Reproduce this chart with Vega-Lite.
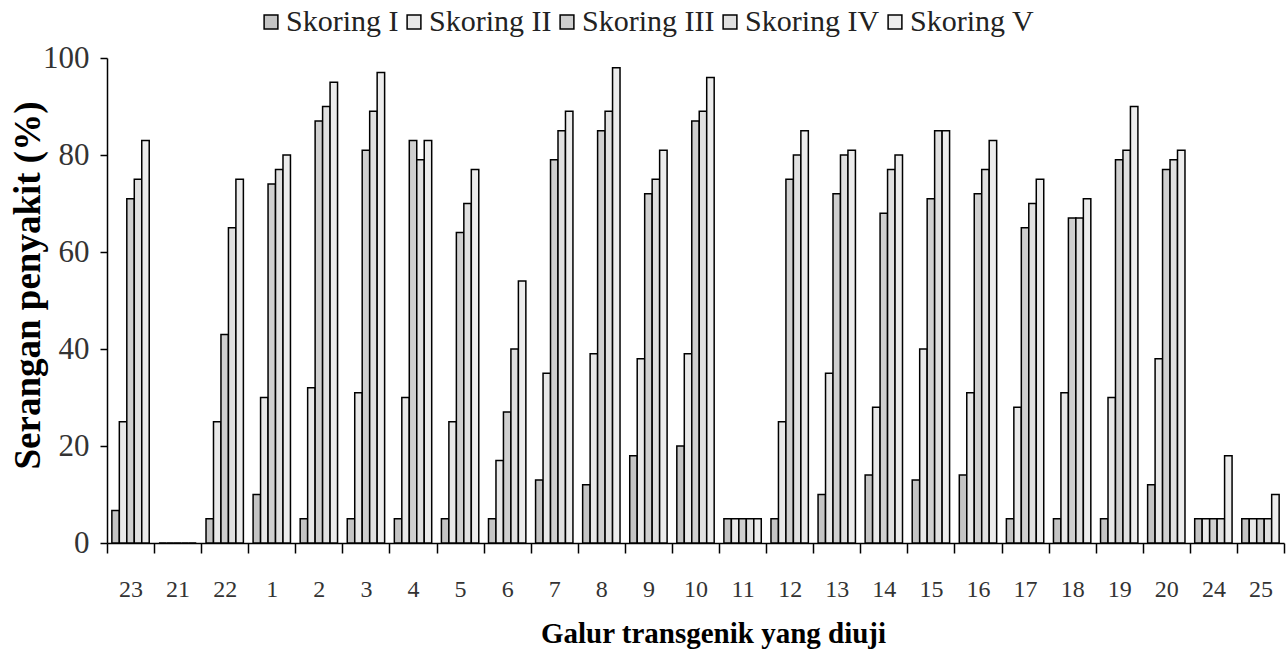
{
  "$schema": "https://vega.github.io/schema/vega-lite/v6.json",
  "autosize": {"type": "none"},
  "width": 1177,
  "height": 485,
  "padding": {"left": 107, "top": 58, "right": 3, "bottom": 114},
  "background": "white",
  "config": {
    "view": {"stroke": null},
    "font": "Liberation Serif"
  },
  "data": {
    "values": [
      {"galur": "23", "skoring": "Skoring I", "v": 6.7}, {"galur": "23", "skoring": "Skoring II", "v": 25}, {"galur": "23", "skoring": "Skoring III", "v": 71}, {"galur": "23", "skoring": "Skoring IV", "v": 75}, {"galur": "23", "skoring": "Skoring V", "v": 83},
      {"galur": "21", "skoring": "Skoring I", "v": 0}, {"galur": "21", "skoring": "Skoring II", "v": 0}, {"galur": "21", "skoring": "Skoring III", "v": 0}, {"galur": "21", "skoring": "Skoring IV", "v": 0}, {"galur": "21", "skoring": "Skoring V", "v": 0},
      {"galur": "22", "skoring": "Skoring I", "v": 5}, {"galur": "22", "skoring": "Skoring II", "v": 25}, {"galur": "22", "skoring": "Skoring III", "v": 43}, {"galur": "22", "skoring": "Skoring IV", "v": 65}, {"galur": "22", "skoring": "Skoring V", "v": 75},
      {"galur": "1", "skoring": "Skoring I", "v": 10}, {"galur": "1", "skoring": "Skoring II", "v": 30}, {"galur": "1", "skoring": "Skoring III", "v": 74}, {"galur": "1", "skoring": "Skoring IV", "v": 77}, {"galur": "1", "skoring": "Skoring V", "v": 80},
      {"galur": "2", "skoring": "Skoring I", "v": 5}, {"galur": "2", "skoring": "Skoring II", "v": 32}, {"galur": "2", "skoring": "Skoring III", "v": 87}, {"galur": "2", "skoring": "Skoring IV", "v": 90}, {"galur": "2", "skoring": "Skoring V", "v": 95},
      {"galur": "3", "skoring": "Skoring I", "v": 5}, {"galur": "3", "skoring": "Skoring II", "v": 31}, {"galur": "3", "skoring": "Skoring III", "v": 81}, {"galur": "3", "skoring": "Skoring IV", "v": 89}, {"galur": "3", "skoring": "Skoring V", "v": 97},
      {"galur": "4", "skoring": "Skoring I", "v": 5}, {"galur": "4", "skoring": "Skoring II", "v": 30}, {"galur": "4", "skoring": "Skoring III", "v": 83}, {"galur": "4", "skoring": "Skoring IV", "v": 79}, {"galur": "4", "skoring": "Skoring V", "v": 83},
      {"galur": "5", "skoring": "Skoring I", "v": 5}, {"galur": "5", "skoring": "Skoring II", "v": 25}, {"galur": "5", "skoring": "Skoring III", "v": 64}, {"galur": "5", "skoring": "Skoring IV", "v": 70}, {"galur": "5", "skoring": "Skoring V", "v": 77},
      {"galur": "6", "skoring": "Skoring I", "v": 5}, {"galur": "6", "skoring": "Skoring II", "v": 17}, {"galur": "6", "skoring": "Skoring III", "v": 27}, {"galur": "6", "skoring": "Skoring IV", "v": 40}, {"galur": "6", "skoring": "Skoring V", "v": 54},
      {"galur": "7", "skoring": "Skoring I", "v": 13}, {"galur": "7", "skoring": "Skoring II", "v": 35}, {"galur": "7", "skoring": "Skoring III", "v": 79}, {"galur": "7", "skoring": "Skoring IV", "v": 85}, {"galur": "7", "skoring": "Skoring V", "v": 89},
      {"galur": "8", "skoring": "Skoring I", "v": 12}, {"galur": "8", "skoring": "Skoring II", "v": 39}, {"galur": "8", "skoring": "Skoring III", "v": 85}, {"galur": "8", "skoring": "Skoring IV", "v": 89}, {"galur": "8", "skoring": "Skoring V", "v": 98},
      {"galur": "9", "skoring": "Skoring I", "v": 18}, {"galur": "9", "skoring": "Skoring II", "v": 38}, {"galur": "9", "skoring": "Skoring III", "v": 72}, {"galur": "9", "skoring": "Skoring IV", "v": 75}, {"galur": "9", "skoring": "Skoring V", "v": 81},
      {"galur": "10", "skoring": "Skoring I", "v": 20}, {"galur": "10", "skoring": "Skoring II", "v": 39}, {"galur": "10", "skoring": "Skoring III", "v": 87}, {"galur": "10", "skoring": "Skoring IV", "v": 89}, {"galur": "10", "skoring": "Skoring V", "v": 96},
      {"galur": "11", "skoring": "Skoring I", "v": 5}, {"galur": "11", "skoring": "Skoring II", "v": 5}, {"galur": "11", "skoring": "Skoring III", "v": 5}, {"galur": "11", "skoring": "Skoring IV", "v": 5}, {"galur": "11", "skoring": "Skoring V", "v": 5},
      {"galur": "12", "skoring": "Skoring I", "v": 5}, {"galur": "12", "skoring": "Skoring II", "v": 25}, {"galur": "12", "skoring": "Skoring III", "v": 75}, {"galur": "12", "skoring": "Skoring IV", "v": 80}, {"galur": "12", "skoring": "Skoring V", "v": 85},
      {"galur": "13", "skoring": "Skoring I", "v": 10}, {"galur": "13", "skoring": "Skoring II", "v": 35}, {"galur": "13", "skoring": "Skoring III", "v": 72}, {"galur": "13", "skoring": "Skoring IV", "v": 80}, {"galur": "13", "skoring": "Skoring V", "v": 81},
      {"galur": "14", "skoring": "Skoring I", "v": 14}, {"galur": "14", "skoring": "Skoring II", "v": 28}, {"galur": "14", "skoring": "Skoring III", "v": 68}, {"galur": "14", "skoring": "Skoring IV", "v": 77}, {"galur": "14", "skoring": "Skoring V", "v": 80},
      {"galur": "15", "skoring": "Skoring I", "v": 13}, {"galur": "15", "skoring": "Skoring II", "v": 40}, {"galur": "15", "skoring": "Skoring III", "v": 71}, {"galur": "15", "skoring": "Skoring IV", "v": 85}, {"galur": "15", "skoring": "Skoring V", "v": 85},
      {"galur": "16", "skoring": "Skoring I", "v": 14}, {"galur": "16", "skoring": "Skoring II", "v": 31}, {"galur": "16", "skoring": "Skoring III", "v": 72}, {"galur": "16", "skoring": "Skoring IV", "v": 77}, {"galur": "16", "skoring": "Skoring V", "v": 83},
      {"galur": "17", "skoring": "Skoring I", "v": 5}, {"galur": "17", "skoring": "Skoring II", "v": 28}, {"galur": "17", "skoring": "Skoring III", "v": 65}, {"galur": "17", "skoring": "Skoring IV", "v": 70}, {"galur": "17", "skoring": "Skoring V", "v": 75},
      {"galur": "18", "skoring": "Skoring I", "v": 5}, {"galur": "18", "skoring": "Skoring II", "v": 31}, {"galur": "18", "skoring": "Skoring III", "v": 67}, {"galur": "18", "skoring": "Skoring IV", "v": 67}, {"galur": "18", "skoring": "Skoring V", "v": 71},
      {"galur": "19", "skoring": "Skoring I", "v": 5}, {"galur": "19", "skoring": "Skoring II", "v": 30}, {"galur": "19", "skoring": "Skoring III", "v": 79}, {"galur": "19", "skoring": "Skoring IV", "v": 81}, {"galur": "19", "skoring": "Skoring V", "v": 90},
      {"galur": "20", "skoring": "Skoring I", "v": 12}, {"galur": "20", "skoring": "Skoring II", "v": 38}, {"galur": "20", "skoring": "Skoring III", "v": 77}, {"galur": "20", "skoring": "Skoring IV", "v": 79}, {"galur": "20", "skoring": "Skoring V", "v": 81},
      {"galur": "24", "skoring": "Skoring I", "v": 5}, {"galur": "24", "skoring": "Skoring II", "v": 5}, {"galur": "24", "skoring": "Skoring III", "v": 5}, {"galur": "24", "skoring": "Skoring IV", "v": 5}, {"galur": "24", "skoring": "Skoring V", "v": 18},
      {"galur": "25", "skoring": "Skoring I", "v": 5}, {"galur": "25", "skoring": "Skoring II", "v": 5}, {"galur": "25", "skoring": "Skoring III", "v": 5}, {"galur": "25", "skoring": "Skoring IV", "v": 5}, {"galur": "25", "skoring": "Skoring V", "v": 10}
    ]
  },
  "mark": {"type": "bar", "stroke": "black", "strokeWidth": 1.5},
  "encoding": {
    "x": {
      "field": "galur",
      "type": "nominal",
      "sort": ["23", "21", "22", "1", "2", "3", "4", "5", "6", "7", "8", "9", "10", "11", "12", "13", "14", "15", "16", "17", "18", "19", "20", "24", "25"],
      "scale": {"paddingInner": 0, "paddingOuter": 0},
      "axis": {
        "title": "Galur transgenik yang diuji",
        "titleFont": "Liberation Serif",
        "titleFontSize": 29,
        "titleFontWeight": "bold",
        "titleColor": "black",
        "titlePadding": 18,
        "titleX": 606,
        "labelAngle": 0,
        "labelFont": "Liberation Serif",
        "labelFontSize": 24,
        "labelColor": "#333333",
        "labelPadding": 24,
        "tickBand": "extent",
        "tickSize": 10,
        "tickColor": "black",
        "tickWidth": 1.5,
        "domainColor": "black",
        "domainWidth": 1.5,
        "grid": false
      }
    },
    "xOffset": {
      "field": "skoring",
      "type": "nominal",
      "sort": ["Skoring I", "Skoring II", "Skoring III", "Skoring IV", "Skoring V"],
      "scale": {"paddingInner": 0, "paddingOuter": 0.65}
    },
    "y": {
      "field": "v",
      "type": "quantitative",
      "scale": {"domain": [0, 100]},
      "axis": {
        "title": "Serangan penyakit (%)",
        "titleFont": "Liberation Serif",
        "titleFontSize": 37,
        "titleFontWeight": "bold",
        "titleColor": "black",
        "titlePadding": -5,
        "titleY": 227,
        "values": [0, 20, 40, 60, 80, 100],
        "labelFont": "Liberation Serif",
        "labelFontSize": 31,
        "labelColor": "#333333",
        "labelPadding": 11,
        "tickSize": 7,
        "tickColor": "black",
        "tickWidth": 1.5,
        "domainColor": "black",
        "domainWidth": 1.5,
        "grid": false
      }
    },
    "fill": {
      "field": "skoring",
      "type": "nominal",
      "sort": ["Skoring I", "Skoring II", "Skoring III", "Skoring IV", "Skoring V"],
      "scale": {"range": ["#c4c4c4", "#e8e8e8", "#cfcfcf", "#e0e0e0", "#ececec"]},
      "legend": {
        "title": null,
        "orient": "none",
        "direction": "horizontal",
        "columns": 5,
        "padding": 0,
        "legendX": 149,
        "legendY": -51,
        "symbolType": "square",
        "symbolSize": 190,
        "symbolStrokeColor": "black",
        "symbolStrokeWidth": 1.5,
        "symbolOpacity": 1,
        "labelFont": "Liberation Serif",
        "labelFontSize": 30,
        "labelColor": "#222222",
        "labelOffset": 0,
        "columnPadding": -12,
        "labelLimit": 300
      }
    }
  }
}
